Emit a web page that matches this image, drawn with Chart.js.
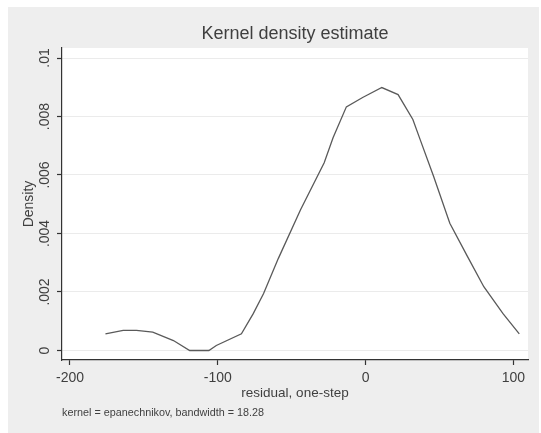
<!DOCTYPE html>
<html>
<head>
<meta charset="utf-8">
<title>Kernel density estimate</title>
<script src="https://cdn.jsdelivr.net/npm/chart.js@4.4.1/dist/chart.umd.min.js"></script>
<style>
  html, body { margin: 0; padding: 0; background: #fff; }
  #wrap { width: 541px; height: 433px; }
</style>
</head>
<body>
<div id="wrap"><canvas id="kdensity" width="541" height="433"></canvas></div>
<script>
// Epanechnikov kernel density of the one-step residuals
const residuals = [-176, -164, -155, -144, -130, -119, -106, -101, -84, -76, -69, -59, -44,
  -28, -22, -13, -2, 11, 22, 32, 37, 46, 57, 69, 80, 93, 104];
const density = [0.00057, 0.00069, 0.00069, 0.00063, 0.00034, 0.0, 0.0, 0.00017, 0.00057,
  0.00126, 0.00195, 0.00315, 0.00481, 0.00642, 0.00727, 0.00833, 0.00865, 0.00899, 0.00875,
  0.0079, 0.0072, 0.00596, 0.00435, 0.00321, 0.00218, 0.00126, 0.00057];

// Axis ticks
const xTicks = [-200, -100, 0, 100];
const xTickLabels = ['-200', '-100', '0', '100'];
const yTicks = [0, 0.002, 0.004, 0.006, 0.008, 0.01];
const yTickLabels = ['0', '.002', '.004', '.006', '.008', '.01'];

const noteText = 'kernel = epanechnikov, bandwidth = 18.28';

const FONT = '"Liberation Sans", Arial, sans-serif';
const TEXT = '#3f3f3f';
const AXIS = '#333333';

// Gray graph region, white plot region, and the kernel note under the axis
const panelPlugin = {
  id: 'panel',
  beforeDraw(chart) {
    const { ctx, chartArea: a } = chart;
    ctx.save();
    ctx.fillStyle = '#ffffff';
    ctx.fillRect(0, 0, chart.width, chart.height);
    ctx.fillStyle = '#eeeeee';
    ctx.fillRect(8, 7, chart.width - 10, chart.height - 7);
    ctx.fillStyle = '#ffffff';
    ctx.fillRect(a.left, a.top, a.right - a.left, a.bottom - a.top);
    ctx.restore();
  },
  afterDraw(chart) {
    const { ctx, chartArea: a } = chart;
    ctx.save();
    ctx.fillStyle = TEXT;
    ctx.font = '10.8px ' + FONT;
    ctx.textAlign = 'left';
    ctx.textBaseline = 'middle';
    ctx.fillText(noteText, a.left, 413.5);
    ctx.restore();
  }
};

new Chart(document.getElementById('kdensity'), {
  type: 'line',
  data: {
    datasets: [{
      data: residuals.map((x, i) => ({ x: x, y: density[i] })),
      borderColor: '#5a5a5a',
      borderWidth: 1.3,
      pointRadius: 0,
      tension: 0,
      fill: false
    }]
  },
  options: {
    responsive: false,
    animation: false,
    devicePixelRatio: 1,
    layout: { padding: { left: 8, right: 13, top: 7, bottom: 31 } },
    plugins: {
      legend: { display: false },
      tooltip: { enabled: false },
      title: {
        display: true,
        text: 'Kernel density estimate',
        fullSize: false,
        color: TEXT,
        font: { family: FONT, size: 18, weight: 'normal' },
        padding: { top: 16.7, bottom: 2.7 }
      }
    },
    scales: {
      x: {
        type: 'linear',
        min: -205.4,
        max: 109.9,
        afterBuildTicks: s => { s.ticks = xTicks.map(v => ({ value: v })); },
        afterFit: s => { s.height = 42; },
        ticks: {
          callback: (v, i) => xTickLabels[i],
          color: TEXT,
          font: { family: FONT, size: 14 },
          padding: 4.6,
          autoSkip: false,
          maxRotation: 0
        },
        grid: { drawOnChartArea: false, tickLength: 5, tickColor: AXIS, tickWidth: 1.2 },
        border: { color: AXIS, width: 1.2 },
        title: {
          display: true,
          text: 'residual, one-step',
          color: TEXT,
          font: { family: FONT, size: 13.5 },
          padding: { top: 0, bottom: 0.4 }
        }
      },
      y: {
        min: -0.000325,
        max: 0.010342,
        afterBuildTicks: s => { s.ticks = yTicks.map(v => ({ value: v })); },
        afterFit: s => { s.width = 54; },
        ticks: {
          callback: (v, i) => yTickLabels[i],
          color: TEXT,
          font: { family: FONT, size: 14 },
          minRotation: 90,
          maxRotation: 90,
          crossAlign: 'center',
          padding: -1.5
        },
        grid: { color: '#ebebeb', lineWidth: 1, tickLength: 5, tickColor: AXIS, tickWidth: 1.2 },
        border: { color: AXIS, width: 1.2 },
        title: {
          display: true,
          text: 'Density',
          color: TEXT,
          font: { family: FONT, size: 14 },
          padding: { top: 13.1, bottom: 0 }
        }
      }
    }
  },
  plugins: [panelPlugin]
});
</script>
</body>
</html>
